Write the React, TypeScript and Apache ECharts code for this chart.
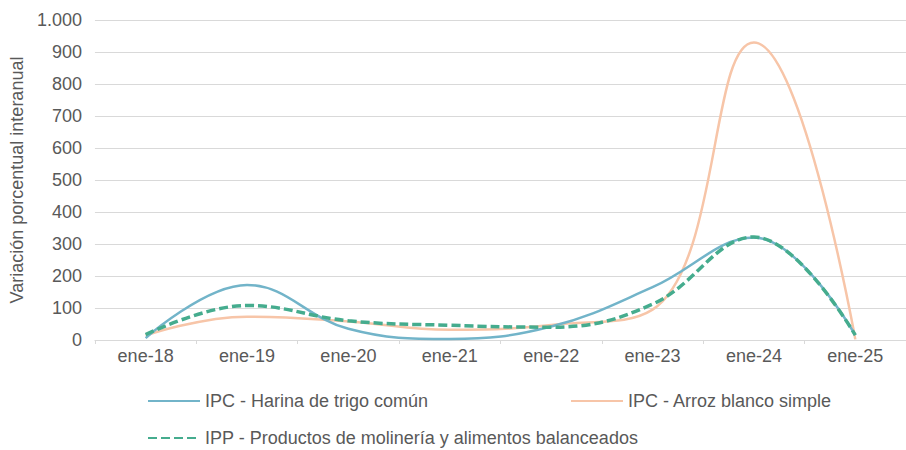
import React, { useEffect, useRef } from "react";
import * as echarts from "echarts";

const categories = ["ene-18", "ene-19", "ene-20", "ene-21", "ene-22", "ene-23", "ene-24", "ene-25"];
const harinaValues = [6, 172, 35, 3, 42, 165, 320, 15];
const arrozValues = [14, 73, 58, 32, 47, 95, 930, 2];
const molineriaValues = [17, 108, 60, 46, 40, 112, 322, 15];
const seriesNames = [
  "IPC - Harina de trigo común",
  "IPC - Arroz blanco simple",
  "IPP - Productos de molinería y alimentos balanceados",
];

const FONT = "'Liberation Sans', Arial, sans-serif";
const TEXT_COLOR = "#595959";

export default function App() {
  const ref = useRef<HTMLDivElement>(null);
  useEffect(() => {
    if (!ref.current) return;
    const chart = echarts.init(ref.current, undefined, { renderer: "svg" });
    const legendText = { fontFamily: FONT, fontSize: 18, color: TEXT_COLOR };
    const legendBase = {
      itemWidth: 52,
      itemHeight: 14,
      itemGap: 10,
      textStyle: legendText,
      itemStyle: { opacity: 0 },
    };
    chart.setOption({
      animation: false,
      textStyle: { fontFamily: FONT },
      grid: { left: 91, top: 20, width: 820, height: 320, containLabel: false },
      legend: [
        { ...legendBase, data: [seriesNames[0]], left: 142, top: 387 },
        { ...legendBase, data: [seriesNames[1]], left: 565, top: 387 },
        { ...legendBase, data: [seriesNames[2]], left: 142, top: 424 },
      ],
      xAxis: {
        type: "category",
        data: categories,
        boundaryGap: true,
        axisLine: { lineStyle: { color: "#d9d9d9", width: 1 } },
        axisTick: { show: true, length: 4, lineStyle: { color: "#d9d9d9" } },
        axisLabel: { color: TEXT_COLOR, fontSize: 18, fontFamily: FONT, margin: 7 },
      },
      yAxis: {
        type: "value",
        min: 0,
        max: 1000,
        interval: 100,
        name: "Variación porcentual interanual",
        nameLocation: "middle",
        nameGap: 66,
        nameRotate: 90,
        nameTextStyle: { color: TEXT_COLOR, fontSize: 18, fontFamily: FONT },
        axisLine: { show: false },
        axisTick: { show: false },
        splitLine: { lineStyle: { color: "#d9d9d9", width: 1 } },
        axisLabel: {
          color: TEXT_COLOR,
          fontSize: 18,
          fontFamily: FONT,
          margin: 13,
          formatter: (v: number) => (v >= 1000 ? v.toLocaleString("de-DE") : String(v)),
        },
      },
      series: [
        {
          name: seriesNames[0],
          type: "line",
          data: harinaValues,
          smooth: 0.4,
          showSymbol: false,
          symbol: "none",
          lineStyle: { color: "#72b4c9", width: 2.5 },
          itemStyle: { color: "#72b4c9" },
          z: 2,
        },
        {
          name: seriesNames[1],
          type: "line",
          data: arrozValues,
          smooth: 0.45,
          showSymbol: false,
          symbol: "none",
          lineStyle: { color: "#f7c5a8", width: 2.5 },
          itemStyle: { color: "#f7c5a8" },
          z: 1,
        },
        {
          name: seriesNames[2],
          type: "line",
          data: molineriaValues,
          smooth: 0.4,
          showSymbol: false,
          symbol: "none",
          lineStyle: { color: "#45ac8e", width: 3.5, type: [9, 4] },
          itemStyle: { color: "#45ac8e" },
          z: 3,
        },
      ],
    });
    return () => chart.dispose();
  }, []);
  return <div ref={ref} style={{ width: 906, height: 450, position: "absolute", left: 0, top: 0 }} />;
}
